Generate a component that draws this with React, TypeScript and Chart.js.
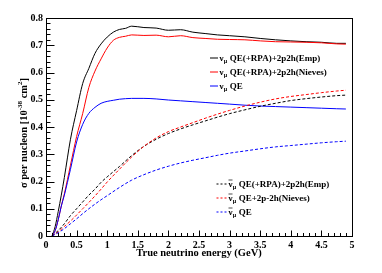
import React, { useEffect, useRef } from "react";
import { Chart, registerables } from "chart.js";
Chart.register(...registerables);

// Energy grid (GeV) for the neutrino (solid) curves
const energySolid = [0.1, 0.15, 0.2, 0.25, 0.3, 0.4, 0.5, 0.6, 0.7, 0.8, 0.9, 1.0, 1.1, 1.2, 1.3, 1.4, 1.6, 1.8, 2.0, 2.2, 2.4, 2.6, 2.8, 3.0, 3.25, 3.5, 3.75, 4.0, 4.25, 4.5, 4.75, 4.9];
const numuEmp = [0, 0.035, 0.09, 0.15, 0.215, 0.355, 0.46, 0.56, 0.615, 0.67, 0.705, 0.73, 0.748, 0.758, 0.762, 0.77, 0.765, 0.763, 0.755, 0.757, 0.748, 0.743, 0.738, 0.735, 0.731, 0.725, 0.72, 0.716, 0.713, 0.711, 0.707, 0.707];
const numuNieves = [0, 0.02, 0.06, 0.11, 0.155, 0.26, 0.365, 0.45, 0.545, 0.605, 0.65, 0.69, 0.718, 0.729, 0.733, 0.738, 0.736, 0.737, 0.731, 0.735, 0.728, 0.725, 0.722, 0.721, 0.72, 0.716, 0.713, 0.712, 0.711, 0.709, 0.705, 0.704];
const numuQE = [0, 0.02, 0.06, 0.11, 0.15, 0.245, 0.345, 0.41, 0.45, 0.472, 0.487, 0.494, 0.498, 0.502, 0.504, 0.505, 0.505, 0.503, 0.499, 0.496, 0.493, 0.49, 0.487, 0.484, 0.48, 0.477, 0.475, 0.473, 0.471, 0.469, 0.467, 0.466];

// Energy grid (GeV) for the antineutrino (dashed) curves
const energyDashed = [0.1, 0.2, 0.3, 0.4, 0.5, 0.6, 0.7, 0.8, 0.9, 1.0, 1.2, 1.4, 1.6, 1.8, 2.0, 2.2, 2.4, 2.6, 2.8, 3.0, 3.25, 3.5, 3.75, 4.0, 4.25, 4.5, 4.75, 4.9];
const anumuEmp = [0, 0.02, 0.045, 0.075, 0.1, 0.125, 0.15, 0.172, 0.197, 0.217, 0.255, 0.295, 0.329, 0.355, 0.376, 0.393, 0.408, 0.422, 0.436, 0.449, 0.463, 0.476, 0.487, 0.497, 0.504, 0.51, 0.515, 0.517];
const anumuNieves = [0, 0.015, 0.035, 0.055, 0.077, 0.1, 0.123, 0.147, 0.172, 0.198, 0.245, 0.29, 0.329, 0.36, 0.383, 0.4, 0.416, 0.432, 0.447, 0.461, 0.477, 0.491, 0.503, 0.512, 0.519, 0.526, 0.532, 0.535];
const anumuQE = [0, 0.012, 0.027, 0.045, 0.063, 0.082, 0.1, 0.117, 0.133, 0.148, 0.178, 0.205, 0.225, 0.242, 0.256, 0.268, 0.278, 0.287, 0.296, 0.304, 0.312, 0.32, 0.327, 0.332, 0.337, 0.342, 0.346, 0.348];

const xTickValues = [0, 0.5, 1, 1.5, 2, 2.5, 3, 3.5, 4, 4.5, 5];
const yTickValues = [0, 0.1, 0.2, 0.3, 0.4, 0.5, 0.6, 0.7, 0.8];

const solidLegend = ["QE(+RPA)+2p2h(Emp)", "QE(+RPA)+2p2h(Nieves)", "QE"];
const dashedLegend = ["QE(+RPA)+2p2h(Emp)", "QE+2p-2h(Nieves)", "QE"];
const colors = ["#000000", "#ff0000", "#0000ff"];

const SERIF = '"Liberation Serif", "Times New Roman", serif';

function pts(xs: number[], ys: number[]) {
  return xs.map((x, i) => ({ x, y: ys[i] }));
}

const decorPlugin = {
  id: "decor",
  afterDatasetsDraw(chart: any) {
    const ctx = chart.ctx as CanvasRenderingContext2D;
    const area = chart.chartArea;
    const xs = chart.scales.x;
    const ys = chart.scales.y;
    ctx.save();
    // frame
    ctx.strokeStyle = "#000";
    ctx.lineWidth = 1;
    ctx.strokeRect(Math.round(area.left) + 0.5, Math.round(area.top) + 0.5, Math.round(area.right - area.left), Math.round(area.bottom - area.top));
    // x ticks (inward)
    ctx.beginPath();
    const bottom = Math.round(area.bottom) + 0.5;
    for (let i = 0; i < xTickValues.length - 1; i++) {
      const a = xTickValues[i];
      const b = xTickValues[i + 1];
      for (let k = 0; k < 5; k++) {
        const v = a + ((b - a) * k) / 5;
        const px = Math.round(xs.getPixelForValue(v)) + 0.5;
        const len = k === 0 ? 6 : 3.5;
        ctx.moveTo(px, bottom);
        ctx.lineTo(px, bottom - len);
      }
    }
    {
      const px = Math.round(xs.getPixelForValue(xTickValues[xTickValues.length - 1])) + 0.5;
      ctx.moveTo(px, bottom);
      ctx.lineTo(px, bottom - 6);
    }
    // y ticks (inward)
    const left = Math.round(area.left) + 0.5;
    for (let i = 0; i < yTickValues.length - 1; i++) {
      const a = yTickValues[i];
      const b = yTickValues[i + 1];
      for (let k = 0; k < 5; k++) {
        const v = a + ((b - a) * k) / 5;
        const py = Math.round(ys.getPixelForValue(v)) + 0.5;
        const len = k === 0 ? 8 : 4;
        ctx.moveTo(left, py);
        ctx.lineTo(left + len, py);
      }
    }
    ctx.stroke();

    // axis titles
    ctx.fillStyle = "#000";
    ctx.font = `bold 10.5px ${SERIF}`;
    ctx.textAlign = "center";
    ctx.textBaseline = "middle";
    ctx.fillText("True neutrino energy (GeV)", (area.left + area.right) / 2, 253.5);

    // y title with superscripts
    const parts: [string, boolean][] = [
      ["σ per nucleon [10", false],
      ["-38", true],
      [" cm", false],
      ["2", true],
      ["]", false],
    ];
    const big = `bold 10.5px ${SERIF}`;
    const small = `bold 7px ${SERIF}`;
    let total = 0;
    for (const [t, sup] of parts) {
      ctx.font = sup ? small : big;
      total += ctx.measureText(t).width;
    }
    ctx.save();
    ctx.translate(26.5, 133);
    ctx.rotate(-Math.PI / 2);
    ctx.textAlign = "left";
    ctx.textBaseline = "alphabetic";
    let cx = -total / 2;
    for (const [t, sup] of parts) {
      ctx.font = sup ? small : big;
      ctx.fillText(t, cx, sup ? -4.5 : 0);
      cx += ctx.measureText(t).width;
    }
    ctx.restore();

    // legends
    const drawEntry = (x0: number, x1: number, y: number, color: string, dashed: boolean, label: string) => {
      ctx.save();
      ctx.strokeStyle = color;
      ctx.lineWidth = 1;
      ctx.setLineDash(dashed ? [2, 2] : []);
      ctx.beginPath();
      ctx.moveTo(x0, y + 0.5);
      ctx.lineTo(x1, y + 0.5);
      ctx.stroke();
      ctx.restore();
      let tx = x1 + 1.5;
      ctx.fillStyle = "#000";
      ctx.textAlign = "left";
      ctx.textBaseline = "alphabetic";
      const base = y + 3;
      ctx.font = `bold 9px ${SERIF}`;
      ctx.fillText("ν", tx, base);
      const nuW = ctx.measureText("ν").width;
      if (dashed) {
        ctx.save();
        ctx.strokeStyle = "#000";
        ctx.lineWidth = 0.7;
        ctx.beginPath();
        ctx.moveTo(tx, base - 6.5);
        ctx.lineTo(tx + nuW, base - 6.5);
        ctx.stroke();
        ctx.restore();
      }
      tx += nuW;
      ctx.font = `bold 6px ${SERIF}`;
      ctx.fillText("μ", tx + 0.3, base + 2);
      tx += ctx.measureText("μ").width + 0.5;
      ctx.font = `bold 9px ${SERIF}`;
      ctx.fillText(" " + label, tx, base);
    };
    const solidRows = [57.5, 71.5, 85.5];
    solidLegend.forEach((lab, i) => drawEntry(210, 218, solidRows[i], colors[i], false, lab));
    const dashedRows = [183.5, 197.5, 211.5];
    dashedLegend.forEach((lab, i) => drawEntry(216.5, 227, dashedRows[i], colors[i], true, lab));

    ctx.restore();
  },
};

export default function App() {
  const ref = useRef<HTMLCanvasElement>(null);
  useEffect(() => {
    if (!ref.current) return;
    const mk = (label: string, xs: number[], ys: number[], color: string, dashed: boolean) => ({
      label,
      data: pts(xs, ys),
      borderColor: color,
      backgroundColor: color,
      borderWidth: 1,
      borderDash: dashed ? [3, 2] : [],
      pointRadius: 0,
      fill: false,
      cubicInterpolationMode: "monotone" as const,
    });
    const chart = new Chart(ref.current, {
      type: "line",
      data: {
        datasets: [
          mk("anumu QE", energyDashed, anumuQE, colors[2], true),
          mk("anumu Nieves", energyDashed, anumuNieves, colors[1], true),
          mk("anumu Emp", energyDashed, anumuEmp, colors[0], true),
          mk("numu QE", energySolid, numuQE, colors[2], false),
          mk("numu Nieves", energySolid, numuNieves, colors[1], false),
          mk("numu Emp", energySolid, numuEmp, colors[0], false),
        ],
      },
      options: {
        animation: false,
        responsive: false,
        layout: { padding: { left: 0, right: 30, top: 18, bottom: 0 } },
        plugins: { legend: { display: false }, tooltip: { enabled: false } },
        scales: {
          x: {
            type: "linear",
            min: 0,
            max: 5,
            afterBuildTicks: (s: any) => {
              s.ticks = xTickValues.map((v) => ({ value: v }));
            },
            afterFit: (s: any) => {
              s.height = 37;
            },
            grid: { display: false, drawTicks: false },
            border: { display: false },
            ticks: {
              padding: 3,
              autoSkip: false,
              maxRotation: 0,
              color: "#000",
              font: { family: SERIF, size: 10, weight: "bold" },
              callback: (v: any) => String(Number(v)),
            },
          },
          y: {
            type: "linear",
            min: 0,
            max: 0.8,
            afterBuildTicks: (s: any) => {
              s.ticks = yTickValues.map((v) => ({ value: v }));
            },
            afterFit: (s: any) => {
              s.width = 46;
            },
            grid: { display: false, drawTicks: false },
            border: { display: false },
            ticks: {
              padding: 3,
              color: "#000",
              font: { family: SERIF, size: 10, weight: "bold" },
              callback: (v: any) => String(Number(Number(v).toFixed(1))),
            },
          },
        },
      },
      plugins: [decorPlugin],
    });
    return () => chart.destroy();
  }, []);
  return (
    <div style={{ position: "absolute", left: 0, top: 0, width: 382, height: 273, background: "#fff" }}>
      <canvas ref={ref} width={382} height={273} />
    </div>
  );
}
